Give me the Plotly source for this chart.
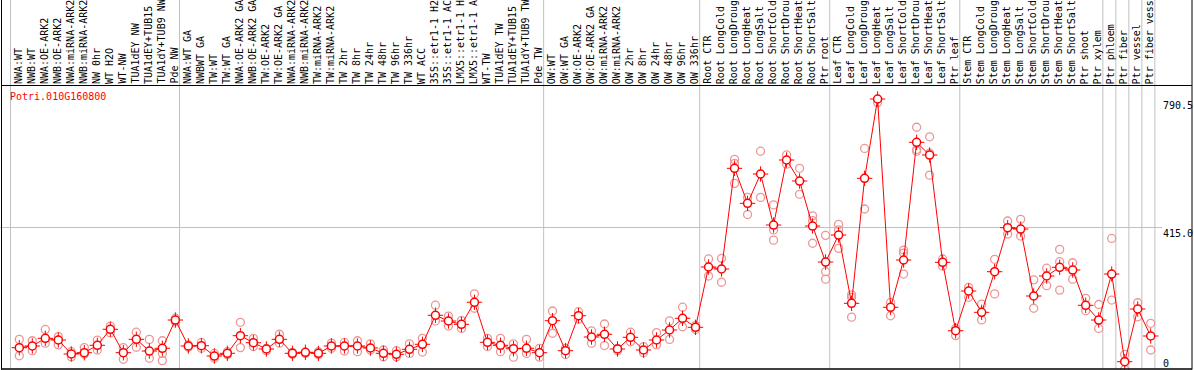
import plotly.graph_objects as go

# ---------------- data ----------------
labels = [
    "NWA:WT", "NWB:WT", "NWA:OE-ARK2", "NWB:OE-ARK2", "NWA:miRNA-ARK2", "NWB:miRNA-ARK2",
    "NW 0hr", "WT H2O", "WT-NW", "TUA1dEY NW", "TUA1dEY+TUB15", "TUA1dY+TUB9 NW", "Pde NW",
    "NWA:WT GA", "NWBWT GA", "TW:WT", "TW:WT GA", "NWA:OE-ARK2 GA", "NWB:OE-ARK2 GA",
    "TW:OE-ARK2", "TW:OE-ARK2 GA", "NWA:miRNA-ARK2", "NWB:miRNA-ARK2", "TW:miRNA-ARK2",
    "TW:miRNA-ARK2", "TW 2hr", "TW 8hr", "TW 24hr", "TW 48hr", "TW 96hr", "TW 336hr",
    "WT ACC", "35S::etr1-1 H2", "35S::etr1-1 AC", "LMX5::etr1-1 H", "LMX5::etr1-1 A",
    "WT-TW", "TUA1dEY TW", "TUA1dEY+TUB15", "TUA1dY+TUB9 TW", "Pde TW",
    "OW:WT", "OW:WT GA", "OW:OE-ARK2", "OW:OE-ARK2 GA", "OW:miRNA-ARK2", "OW:miRNA-ARK2",
    "OW 2hr", "OW 8hr", "OW 24hr", "OW 48hr", "OW 96hr", "OW 336hr",
    "Root CTR", "Root LongCold", "Root LongDroug", "Root LongHeat", "Root LongSalt",
    "Root ShortCold", "Root ShortDrou", "Root ShortHeat", "Root ShortSalt", "Ptr root",
    "Leaf CTR", "Leaf LongCold", "Leaf LongDroug", "Leaf LongHeat", "Leaf LongSalt",
    "Leaf ShortCold", "Leaf ShortDrou", "Leaf ShortHeat", "Leaf ShortSalt", "Ptr leaf",
    "Stem CTR", "Stem LongCold", "Stem LongDroug", "Stem LongHeat", "Stem LongSalt",
    "Stem ShortCold", "Stem ShortDrou", "Stem ShortHeat", "Stem ShortSalt", "Ptr shoot",
    "Ptr xylem", "Ptr phloem", "Ptr fiber", "Ptr vessel", "Ptr fiber vess",
]

group_starts = [0, 13, 41, 53, 63, 73, 84, 85, 86, 87]

means = [
    63.7, 68.7, 91.2, 86.2, 45.3, 49.1, 70.7, 117.5, 49.1, 88.2, 54, 62, 144.6,
    68.7, 69.5, 39.4, 47.3, 98.8, 78.3, 59.9, 88.2, 47.3, 50.3, 47.3, 68.7, 68.7, 68.7,
    62.8, 47.3, 44.4, 59, 73.6, 158.4, 141.7, 132, 196.4, 79.5, 70.7, 60.8, 62, 49.1,
    142.6, 55, 157.2, 95, 102.9, 59.9, 94.1, 57, 86.2, 115.4, 149.6, 123.3,
    299.5, 293.7, 587.9, 485.6, 571.3, 422.2, 612.2, 550.8, 419.3, 314.1,
    393, 193.4, 558.7, 790.5, 181.7, 320, 663.9, 626.8, 313.2, 113.4,
    229.4, 167.1, 285.8, 414.3, 410.5, 214.8, 273.2, 298.6, 290.7, 187.6, 144.6,
    279, 22.8, 176.8, 97.9,
]

rep_a = [
    88, 84, 117, 96, 52, 64, 86, 127, 64, 109, 88, 84, 150,
    72, 79, 47, 52, 138, 91, 62, 103, 50, 50, 52, 77, 79, 84, 75, 57, 55, 75, 91,
    188, 156, 143, 221, 91, 91, 75, 88, 62,
    171, 62, 169, 113, 133, 62, 109, 67, 108, 142, 182, 129,
    323, 325, 614, 503, 638, 481, 627, 588, 449, 392,
    424, 218, 646, 780, 196, 349, 708, 680, 323, 120,
    240, 191, 322, 434, 439, 262, 296, 351, 312, 208, 190,
    383, 44, 195, 135,
]

rep_b = [
    40, 55, 77, 72, 37, 45, 57, 107, 30, 65, 33, 26, 139,
    65, 62, 33, 43, 64, 67, 55, 77, 44, 47, 43, 62, 54, 52, 57, 37, 37, 47, 51,
    142, 127, 120, 179, 67, 52, 36, 47, 36,
    106, 44, 147, 77, 70, 55, 81, 49, 72, 88, 125, 117,
    273, 255, 544, 453, 503, 378, 600, 512, 369, 264,
    354, 153, 469, None, 157, 279, 638, 568, 302, 99,
    211, 145, 221, 396, 390, 179, 245, 232, 264, 172, 120,
    203, 0, 154, 57,
]

rep_c = [None] * 88
for _i, _v in [(11, 47), (55, 602), (58, 408), (61, 435), (62, 286), (63, 408),
               (64, 211), (68, 340), (69, 643), (70, 632), (80, 315)]:
    rep_c[_i] = _v

gene = "Potri.010G160800"
tick_vals = [0, 415.0, 790.5]
tick_text = ["0", "415.0", "790.5"]

# ---------------- layout helpers ----------------
W, H = 1194, 370
n = len(labels)
x_idx = list(range(n))
# pixel mapping: index 0 -> 19.3 px, index 87 -> 1150.7 px
px_per = (1150.7 - 19.3) / 87
x0_rng = -19.3 / px_per
x1_rng = (W - 19.3) / px_per
# value mapping: 0 -> 369.5 px, 790.5 -> 99 px
val_per_px = 790.5 / (369.5 - 99)
y0_rng = -(H - 369.5) * val_per_px
y1_rng = 369.5 * val_per_px


def py(p):  # pixel y -> paper
    return 1 - p / H


def px(p):  # pixel x -> paper
    return p / W


MONO = "DejaVu Sans Mono"
RED = "#ff0000"
PINK = "rgb(236,150,150)"

fig = go.Figure()

reps_x, reps_y = [], []
for arr in (rep_a, rep_b, rep_c):
    for i, v in enumerate(arr):
        if v is not None:
            reps_x.append(i)
            reps_y.append(v)

fig.add_trace(go.Scatter(
    x=reps_x, y=reps_y, mode="markers",
    marker=dict(symbol="circle-open", size=8, color=PINK, line=dict(width=1.3, color=PINK)),
    hoverinfo="skip", showlegend=False, cliponaxis=False,
))
fig.add_trace(go.Scatter(
    x=x_idx, y=means, mode="lines",
    line=dict(color=RED, width=1),
    hoverinfo="skip", showlegend=False,
))
fig.add_trace(go.Scatter(
    x=x_idx, y=means, mode="markers",
    marker=dict(symbol="cross-thin-open", size=11, color=RED, line=dict(width=1, color=RED)),
    hoverinfo="skip", showlegend=False, cliponaxis=False,
))
fig.add_trace(go.Scatter(
    x=x_idx, y=means, mode="markers",
    marker=dict(symbol="circle", size=8, color="white", line=dict(width=1.5, color=RED)),
    hoverinfo="skip", showlegend=False, cliponaxis=False,
))

shapes = []
# group separators
for s in group_starts + [n]:
    shapes.append(dict(type="line", xref="x", yref="paper", x0=s - 0.68, x1=s - 0.68,
                       y0=py(369), y1=1, line=dict(color="#c0c0c0", width=1), layer="below"))
# horizontal grid at 415
shapes.append(dict(type="line", xref="paper", yref="y", x0=0, x1=px(1162), y0=415.0, y1=415.0,
                   line=dict(color="#c0c0c0", width=1), layer="below"))
# frame lines
shapes.append(dict(type="line", xref="paper", yref="paper", x0=px(1), x1=px(1192),
                   y0=py(85.5), y1=py(85.5), line=dict(color="black", width=1)))
shapes.append(dict(type="line", xref="paper", yref="paper", x0=px(1), x1=px(1192),
                   y0=py(369), y1=py(369), line=dict(color="black", width=1.5)))
shapes.append(dict(type="line", xref="paper", yref="paper", x0=px(1.5), x1=px(1.5),
                   y0=py(369.5), y1=1, line=dict(color="black", width=1)))
shapes.append(dict(type="line", xref="paper", yref="paper", x0=px(1192), x1=px(1192),
                   y0=py(369.5), y1=1, line=dict(color="black", width=1)))

annotations = []
for i, lab in enumerate(labels):
    annotations.append(dict(
        x=i - 0.1, y=py(85), xref="x", yref="paper", text=lab, textangle=-90,
        showarrow=False, xanchor="center", yanchor="bottom",
        font=dict(family=MONO, size=10, color="black"), borderpad=0,
    ))
annotations.append(dict(
    x=px(9), y=py(90), xref="paper", yref="paper", text=gene, showarrow=False,
    xanchor="left", yanchor="top", font=dict(family=MONO, size=10, color=RED), borderpad=0,
))
for v, t in zip(tick_vals, tick_text):
    annotations.append(dict(
        x=px(1162), y=v, xref="paper", yref="y", text=t, showarrow=False,
        xanchor="left", yanchor="bottom" if v == 0 else "top",
        font=dict(family=MONO, size=10, color="black"), borderpad=0,
    ))

fig.update_layout(
    width=W, height=H,
    margin=dict(l=0, r=0, t=0, b=0, pad=0),
    paper_bgcolor="white", plot_bgcolor="white",
    xaxis=dict(range=[x0_rng, x1_rng], visible=False, fixedrange=True),
    yaxis=dict(range=[y0_rng, y1_rng], visible=False, fixedrange=True),
    shapes=shapes, annotations=annotations, showlegend=False,
)

fig.write_html(
    "out.html",
    config={"displayModeBar": False},
    post_script="document.body.style.margin='0px';document.body.style.padding='0px';"
                "document.body.style.overflow='hidden';",
)
